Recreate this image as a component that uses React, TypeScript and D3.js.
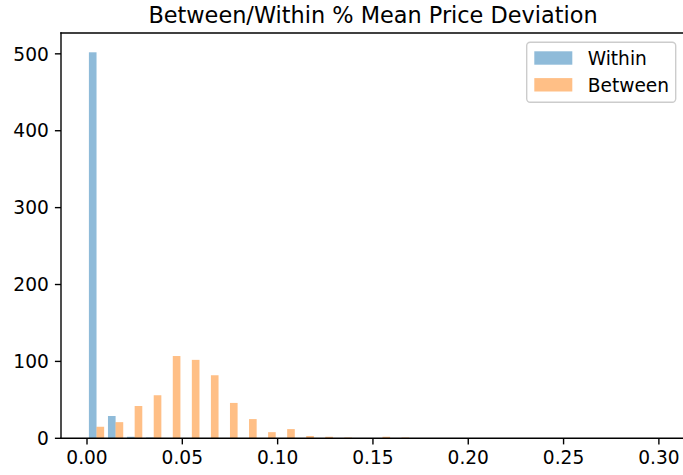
import React from "react";
import * as d3 from "d3";

// Histogram bins: left edges of each 0.01-wide bin
const binEdges = [
  0.0, 0.01, 0.02, 0.03, 0.04, 0.05, 0.06, 0.07, 0.08, 0.09,
  0.1, 0.11, 0.12, 0.13, 0.14, 0.15, 0.16, 0.17, 0.18, 0.19,
  0.2, 0.21, 0.22, 0.23, 0.24, 0.25, 0.26, 0.27, 0.28, 0.29,
];
const binWidth = 0.01;

// Counts per bin for each series
const withinCounts = [
  502, 29, 2, 1, 0, 0, 0, 0, 0, 0,
  0, 0, 0, 0, 0, 0, 0, 0, 0, 0,
  0, 0, 0, 0, 0, 0, 0, 0, 0, 0,
];
const betweenCounts = [
  15, 21, 42, 56, 107, 102, 82, 46, 25, 8,
  12, 3, 2, 1, 0, 2, 1, 0, 0, 0,
  0, 0, 0, 0, 0, 0, 0, 0, 0, 0,
];

const seriesNames = ["Within", "Between"];
const seriesColors = ["#1f77b4", "#ff7f0e"];

const xTicks = [0.0, 0.05, 0.1, 0.15, 0.2, 0.25, 0.3];
const yTicks = [0, 100, 200, 300, 400, 500];

const W = 683;
const H = 475;
const left = 61;
const right = 685;
const top = 33;
const bottom = 438.3;

const FONT = "'DejaVu Sans', sans-serif";
const tickFont = 18.6;
const titleFont = 22.4;
const lw = 1.39;
const tickLen = 6.1;
const tickPad = 6.1;

export default function App() {
  const x = d3.scaleLinear().domain([-0.01364, 0.3137]).range([left, right]);
  const yMax = (d3.max([...withinCounts, ...betweenCounts]) as number) * 1.05;
  const y = d3.scaleLinear().domain([0, yMax]).range([bottom, top]);

  const series = [withinCounts, betweenCounts];
  const barW = (binWidth * 0.8) / series.length;

  return (
    <svg
      width={W}
      height={H}
      style={{ position: "absolute", left: 0, top: 0, background: "#fff", fontFamily: FONT }}
    >
      <defs>
        <clipPath id="plot-area">
          <rect x={left} y={top} width={right - left} height={bottom - top} />
        </clipPath>
      </defs>

      {/* bars */}
      <g clipPath="url(#plot-area)">
        {series.map((counts, si) =>
          counts.map((c, i) => {
            if (c <= 0) return null;
            const x0 = x(binEdges[i] + binWidth * 0.1 + si * barW);
            const x1 = x(binEdges[i] + binWidth * 0.1 + (si + 1) * barW);
            return (
              <rect
                key={`${si}-${i}`}
                x={x0}
                y={y(c)}
                width={x1 - x0}
                height={y(0) - y(c)}
                fill={seriesColors[si]}
                fillOpacity={0.5}
              />
            );
          })
        )}
      </g>

      {/* spines */}
      <g stroke="#000" strokeWidth={lw} fill="none" strokeLinecap="square">
        <line x1={left} y1={top} x2={left} y2={bottom} />
        <line x1={left} y1={bottom} x2={right} y2={bottom} />
        <line x1={left} y1={top} x2={right} y2={top} />
        <line x1={right} y1={top} x2={right} y2={bottom} />
      </g>

      {/* x axis ticks */}
      <g>
        {xTicks.map((t) => (
          <g key={t} transform={`translate(${x(t)},0)`}>
            <line y1={bottom} y2={bottom + tickLen} stroke="#000" strokeWidth={lw} />
            <text
              y={bottom + tickLen + tickPad + 13.4}
              textAnchor="middle"
              fontSize={tickFont}
              fill="#000"
            >
              {d3.format(".2f")(t)}
            </text>
          </g>
        ))}
      </g>

      {/* y axis ticks */}
      <g>
        {yTicks.map((t) => (
          <g key={t} transform={`translate(0,${y(t)})`}>
            <line x1={left} x2={left - tickLen} stroke="#000" strokeWidth={lw} />
            <text
              x={left - tickLen - tickPad}
              y={6.7}
              textAnchor="end"
              fontSize={tickFont}
              fill="#000"
            >
              {t}
            </text>
          </g>
        ))}
      </g>

      {/* title */}
      <text
        x={(left + right) / 2}
        y={22.6}
        textAnchor="middle"
        fontSize={titleFont}
        fill="#000"
      >
        Between/Within % Mean Price Deviation
      </text>

      {/* legend */}
      <g>
        <rect
          x={526.7}
          y={42.3}
          width={149}
          height={60}
          rx={3.5}
          ry={3.5}
          fill="#fff"
          fillOpacity={0.8}
          stroke="#cccccc"
          strokeWidth={lw}
        />
        {seriesNames.map((name, i) => (
          <g key={name} transform={`translate(0,${i * 26.8})`}>
            <rect
              x={534.3}
              y={51.3}
              width={38}
              height={13.4}
              fill={seriesColors[i]}
              fillOpacity={0.5}
            />
            <text x={587.7} y={65} fontSize={tickFont} fill="#000">
              {name}
            </text>
          </g>
        ))}
      </g>
    </svg>
  );
}
